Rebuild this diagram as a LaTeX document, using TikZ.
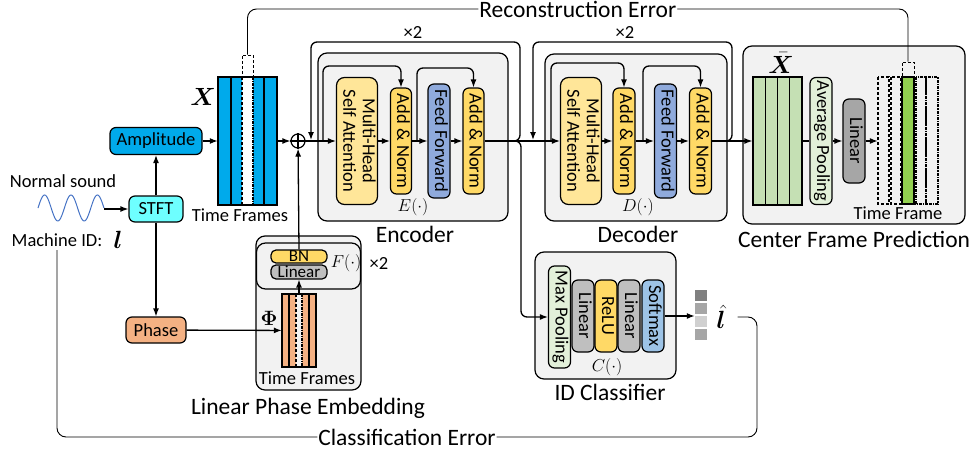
\documentclass[tikz,border=0pt]{standalone}
\usepackage{fontspec}
\setmainfont{Carlito}
\usepackage{bm}
\usepackage{graphicx}
\usetikzlibrary{arrows.meta}

\definecolor{ampblue}{RGB}{0,170,235}
\definecolor{stftcyan}{RGB}{110,255,255}
\definecolor{phorange}{RGB}{244,177,131}
\definecolor{modgray}{RGB}{242,242,242}
\definecolor{mhsay}{RGB}{255,230,153}
\definecolor{addy}{RGB}{255,217,102}
\definecolor{ffblue}{RGB}{143,170,220}
\definecolor{lingray}{RGB}{166,166,166}
\definecolor{lingrayb}{RGB}{191,191,191}
\definecolor{lgreen}{RGB}{226,240,217}
\definecolor{stkgreen}{RGB}{197,224,180}
\definecolor{cgreen}{RGB}{146,208,80}
\definecolor{softblue}{RGB}{157,195,230}
\definecolor{wavec}{RGB}{68,114,196}
\definecolor{pgraya}{RGB}{128,128,128}
\definecolor{pgrayb}{RGB}{166,166,166}
\definecolor{pgrayc}{RGB}{208,208,208}

\tikzstyle{blk} = [draw, line width=1.2pt, rounded corners=6pt, inner sep=0pt, font=\fontsize{18.5}{19.5}\selectfont]
\tikzstyle{module} = [draw, line width=1.2pt, rounded corners=9pt, fill=modgray, inner sep=0pt]
\tikzstyle{arr} = [draw, line width=1.3pt, -{Latex[length=8pt,width=6pt]}]
\tikzstyle{wire} = [draw, line width=1.3pt]
\tikzstyle{thinline} = [draw, line width=0.9pt, rounded corners=9pt]
\tikzstyle{lbl} = [font=\fontsize{23.5}{25}\selectfont]
\tikzstyle{txt} = [font=\fontsize{18.5}{19.5}\selectfont]

\newcommand{\vtext}[1]{\rotatebox{-90}{\begin{tabular}{@{}c@{}}#1\end{tabular}}}

\begin{document}
\begin{tikzpicture}[x=1pt, y=-1pt]
\useasboundingbox (0,0) rectangle (972,452);

% module boxes
\node[module, minimum width=190pt, minimum height=168pt] (encbox) at (413,137) {};
\node[module, minimum width=182pt, minimum height=167pt] (decbox) at (636,137.5) {};
\node[module, minimum width=222pt, minimum height=178pt] (cfpbox) at (854,135) {};
\node[module, minimum width=105pt, minimum height=154pt] (lpebox) at (308.5,313) {};
\node[module, minimum width=104pt, minimum height=46pt] (fbox) at (308.5,266) {};
\node[module, minimum width=141pt, minimum height=127pt] (idbox) at (605.5,315.5) {};

% input side
\node[txt] (ns) at (63,181) {Normal sound};
\draw[wavec, line width=1pt] plot[domain=0:1, samples=80, smooth] ({38+66*\x},{208-13*sin(900*\x)});
\coordinate (wv) at (104,209);
\node[txt] (mid) at (57,240) {Machine ID:};
\node[font=\fontsize{24}{24}\selectfont, inner sep=0pt] (lid) at (118,240) {$\bm{l}$};
\node[blk, fill=stftcyan, minimum width=54pt, minimum height=26pt] (stft) at (156,209) {STFT};
\node[blk, fill=ampblue, minimum width=92pt, minimum height=27pt] (amp) at (156,141) {Amplitude};
\node[blk, fill=phorange, minimum width=60pt, minimum height=26pt] (phase) at (156,330) {Phase};

% amplitude frames
\node[minimum width=59pt, minimum height=128pt, inner sep=0pt] (xs) at (247.5,141) {};
\fill[ampblue] (218,77) rectangle (242,205) (253,77) rectangle (277,205);
\draw[wire] (218,77) rectangle (277,205) (231,77) -- (231,205) (264,77) -- (264,205);
\draw[wire, densely dashed] (242,77) -- (242,205);
\draw[wire, densely dashdotted] (253,77) -- (253,205);
\node[draw, densely dashed, line width=0.8pt, minimum width=11pt, minimum height=22pt, inner sep=0pt] (xtop) at (247.5,66) {};
\node[font=\fontsize{26}{26}\selectfont, inner sep=0pt] (xlab) at (203,97) {$\bm{X}$};
\node[txt] (xtf) at (240,215) {Time Frames};

\node[circle, draw, line width=1.2pt, minimum size=14pt, inner sep=0pt] (plus) at (298,141) {};
\draw[line width=1.2pt] (plus.north) -- (plus.south) (plus.west) -- (plus.east);

% encoder
\node[blk, fill=mhsay, minimum width=41pt, minimum height=127pt, rounded corners=8pt] (mhsaE) at (357,141) {\vtext{Multi-Head\\Self Attention}};
\node[blk, fill=addy, minimum width=21pt, minimum height=106pt] (addE1) at (401,141) {\vtext{Add \& Norm}};
\node[blk, fill=ffblue, minimum width=22pt, minimum height=114pt] (ffE) at (439,141) {\vtext{Feed Forward}};
\node[blk, fill=addy, minimum width=21pt, minimum height=106pt] (addE2) at (473.5,141) {\vtext{Add \& Norm}};
\node[font=\fontsize{18}{18}\selectfont] (elab) at (413,207) {$E(\cdot)$};
\node[lbl] (encl) at (415,234) {Encoder};
\node[txt] (x2e) at (413,32) {×2};

% decoder
\node[blk, fill=mhsay, minimum width=41pt, minimum height=127pt, rounded corners=8pt] (mhsaD) at (581,141) {\vtext{Multi-Head\\Self Attention}};
\node[blk, fill=addy, minimum width=22pt, minimum height=106pt] (addD1) at (624,141) {\vtext{Add \& Norm}};
\node[blk, fill=ffblue, minimum width=22pt, minimum height=114pt] (ffD) at (665.5,141) {\vtext{Feed Forward}};
\node[blk, fill=addy, minimum width=22pt, minimum height=106pt] (addD2) at (700.5,141) {\vtext{Add \& Norm}};
\node[font=\fontsize{18}{18}\selectfont] (dlab) at (638,207) {$D(\cdot)$};
\node[lbl] (decl) at (638,234) {Decoder};
\node[txt] (x2d) at (625,32) {×2};

% center frame prediction
\foreach \i in {0,...,3}
  \node[draw, line width=1.2pt, fill=stkgreen, minimum width=12.25pt, minimum height=128pt, inner sep=0pt] (g\i) at ({759.125+12.25*\i},141) {};
\node[font=\fontsize{24}{24}\selectfont, inner sep=0pt] (xbar) at (781,63) {$\bar{\bm{X}}$};
\node[blk, fill=lgreen, minimum width=22pt, minimum height=127pt] (avgp) at (821,141) {\vtext{Average Pooling}};
\node[blk, fill=lingray, minimum width=22pt, minimum height=84pt] (linC) at (854,141) {\vtext{Linear}};
\node[minimum width=60pt, minimum height=127pt, inner sep=0pt] (ostk) at (908,141) {};
\draw[line width=1.2pt, densely dashed] (878,77) rectangle (889,204) (891,77) rectangle (901,204);
\draw[line width=1.2pt, fill=cgreen] (902,77) rectangle (914,204);
\draw[line width=1.2pt, densely dashdotted] (916,77) rectangle (926,204) (926,77) rectangle (938,204);
\node[draw, densely dashed, line width=0.8pt, minimum width=12pt, minimum height=15pt, inner sep=0pt] (ctop) at (908,69.5) {};
\node[txt] (tfc) at (898,213) {Time Frame};
\node[lbl] (cfpl) at (854,239) {Center Frame Prediction};

% linear phase embedding
\node[blk, fill=addy, minimum width=56pt, minimum height=13pt, rounded corners=5pt, font=\fontsize{17}{17}\selectfont] (bn) at (299,256.5) {BN};
\node[blk, fill=lingrayb, minimum width=56pt, minimum height=14pt, rounded corners=5pt, font=\fontsize{17}{17}\selectfont] (linF) at (299,272) {Linear};
\node[font=\fontsize{18}{18}\selectfont] (flab) at (346,263) {$F(\cdot)$};
\node[txt] (x2f) at (379,263) {×2};
\node[minimum width=34pt, minimum height=73pt, inner sep=0pt] (phs) at (299,330.5) {};
\fill[phorange] (282,294) rectangle (296,367) (302,294) rectangle (316,367);
\draw[wire] (282,294) rectangle (316,367) (289,294) -- (289,367) (309,294) -- (309,367);
\draw[wire, densely dashed] (296,294) -- (296,367);
\draw[wire, densely dashdotted] (302,294) -- (302,367);
\node[font=\fontsize{22}{22}\selectfont] (philab) at (269,318) {$\bm{\Phi}$};
\node[txt] (ptf) at (307,378) {Time Frames};
\node[lbl] (lpel) at (308,408) {Linear Phase Embedding};

% ID classifier
\node[blk, fill=lgreen, minimum width=22pt, minimum height=102pt] (maxp) at (559.5,317) {\vtext{Max Pooling}};
\node[blk, fill=lingrayb, minimum width=22pt, minimum height=72pt] (linA) at (583,316) {\vtext{Linear}};
\node[blk, fill=addy, minimum width=22pt, minimum height=72pt] (relu) at (606,316) {\vtext{ReLU}};
\node[blk, fill=lingrayb, minimum width=22pt, minimum height=72pt] (linB) at (629,316) {\vtext{Linear}};
\node[blk, fill=softblue, minimum width=22pt, minimum height=72pt] (softm) at (653,316) {\vtext{Softmax}};
\node[font=\fontsize{18}{18}\selectfont] (clab) at (607,367) {$C(\cdot)$};
\node[lbl] (idl) at (610,392) {ID Classifier};
\foreach \i/\c in {0/pgraya,1/pgrayb,2/pgrayc,3/pgrayb}
  \fill[\c] (695,{290+13*\i}) rectangle (707,{301+13*\i});
\node[minimum width=12pt, minimum height=52pt, inner sep=0pt] (probs) at (701,316) {};
\node[font=\fontsize{24}{24}\selectfont, inner sep=0pt] (lhat) at (721,317) {$\hat{\bm{l}}$};

% connectors
\path[arr] (wv) -- (stft);
\path[arr] (stft) -- (amp);
\path[arr] (stft) -- (phase);
\path[arr] (amp) -- (xs);
\path[arr] (xs) -- (plus);
\path[arr] (phase) -- (phs);
\path[arr] (phs) -- (linF);
\path[arr] (bn.north) -- (plus);
\foreach \source/\dest in {plus/mhsaE, mhsaE/addE1, addE1/ffE, ffE/addE2, addE2/mhsaD, mhsaD/addD1, addD1/ffD, ffD/addD2, addD2/g0, avgp/linC, linC/ostk, softm/probs}
  \path[arr] (\source) -- (\dest);
\path[wire] (g3) -- (avgp);

% residual and repeat loops
\draw[arr, rounded corners=6pt] (323,141) -- (323,66) -- (addE1.north |- 0,66) -- (addE1.north);
\draw[arr, rounded corners=6pt] (417,141) -- (417,68) -- (addE2.north |- 0,68) -- (addE2.north);
\draw[arr, rounded corners=6pt] (551,141) -- (551,63) -- (addD1.north |- 0,63) -- (addD1.north);
\draw[arr, rounded corners=6pt] (643,141) -- (643,66) -- (addD2.north |- 0,66) -- (addD2.north);
\draw[arr, rounded corners=6pt] (512,141) -- (520,141) -- (520,42) -- (311,42) -- (311,140);
\draw[arr, rounded corners=6pt] (725,141) -- (732,141) -- (732,42) -- (533,42) -- (533,140);
\draw[arr, rounded corners=6pt] (514,141) -- (521,141) -- (521,317) -- (maxp);

% error paths
\draw[thinline] (xtop.north) -- (247.5,9) -- node[lbl, fill=white, inner sep=1pt] {Reconstruction Error} (908,9) -- (ctop.north);
\draw[thinline] ([xshift=12pt]lhat.east) -- (757,317) -- (757,437) -- node[lbl, fill=white, inner sep=1pt] {Classification Error} (57,437) -- (mid.south);
\end{tikzpicture}
\end{document}
